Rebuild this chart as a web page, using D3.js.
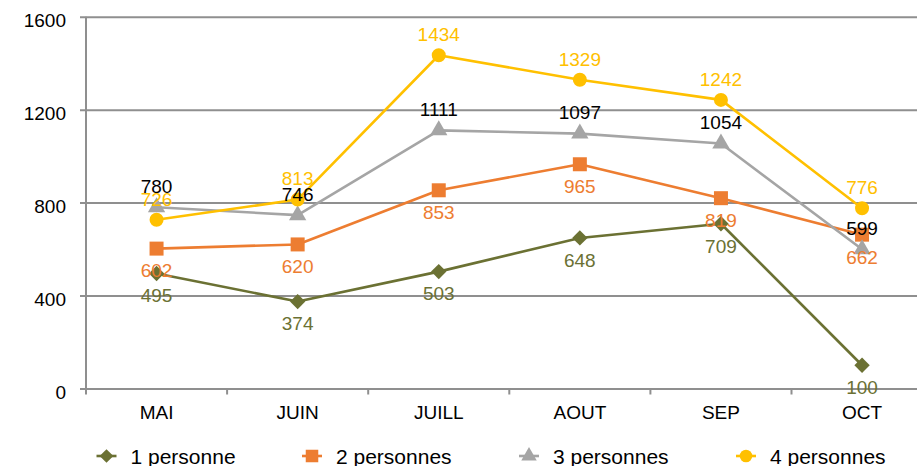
<!DOCTYPE html>
<html><head><meta charset="utf-8">
<script src="https://cdn.jsdelivr.net/npm/d3@7"></script>
<style>
html,body{margin:0;padding:0;background:#fff;}
svg{display:block;font-family:"Liberation Sans",Arial,Helvetica,sans-serif;}
</style></head>
<body>
<svg id="chart" width="917" height="466"></svg>
<script>
const categories = ["MAI","JUIN","JUILL","AOUT","SEP","OCT"];
const seriesNames = ["1 personne","2 personnes","3 personnes","4 personnes"];
const personne1 = [495,374,503,648,709,100];
const personnes2 = [602,620,853,965,819,662];
const personnes3 = [780,746,1111,1097,1054,599];
const personnes4 = [726,813,1434,1329,1242,776];
const yTicks = [0,400,800,1200,1600];

const seriesColors = ["#6B7133","#ED7D31","#A5A5A5","#FFC000"];
const labelColors = ["#6B7133","#ED7D31","#000000","#FFC000"];
const labelPos = ["below","below","above","above"];
const symbols = [d3.symbolDiamond2, d3.symbolSquare, d3.symbolTriangle, d3.symbolCircle];
const symbolSizes = [150,196,130,154];

const series = [personne1,personnes2,personnes3,personnes4].map((v,i)=>({name:seriesNames[i],values:v,i}));

const svg = d3.select("#chart");
const mLeft = 86, mRight = 917, mTop = 16.7, mBottom = 388.5;
const x = d3.scaleBand().domain(categories).range([mLeft, mLeft + 6*141.1]);
const y = d3.scaleLinear().domain([0,1600]).range([mBottom, mTop]);
const gridColor = "#8f8f8f";

// Gridlines + y labels
const yAxis = d3.axisLeft(y).tickValues(yTicks).tickSize(-(mRight-mLeft)).tickPadding(20).tickFormat(d3.format("d"));
const gy = svg.append("g").attr("transform",`translate(${mLeft},0)`).call(yAxis);
gy.select(".domain").remove();
gy.selectAll(".tick line").attr("stroke",gridColor).attr("stroke-width",2).attr("x1",-6);
gy.selectAll(".tick text").attr("font-size",19).attr("fill","#000").attr("dy","0.5em").attr("font-family","Liberation Sans, Arial, sans-serif");

// y axis vertical line
svg.append("line").attr("x1",mLeft).attr("x2",mLeft).attr("y1",mTop).attr("y2",mBottom+5)
  .attr("stroke",gridColor).attr("stroke-width",2);

// x axis labels
const xAxis = d3.axisBottom(x).tickSize(0).tickPadding(17);
const gx = svg.append("g").attr("transform",`translate(0,${mBottom})`).call(xAxis);
gx.select(".domain").remove();
gx.selectAll(".tick text").attr("font-size",19).attr("fill","#000").attr("font-family","Liberation Sans, Arial, sans-serif");
// x boundary ticks
svg.append("g").selectAll("line").data(categories).join("line")
  .attr("x1",d=>x(d)).attr("x2",d=>x(d)).attr("y1",mBottom).attr("y2",mBottom+6)
  .attr("stroke",gridColor).attr("stroke-width",2);

const cx = d => x(d) + x.bandwidth()/2;
const line = d3.line().x((d,j)=>cx(categories[j])).y(d=>y(d));

// lines and markers
series.forEach(s=>{
  svg.append("path").datum(s.values).attr("d",line).attr("fill","none")
    .attr("stroke",seriesColors[s.i]).attr("stroke-width",2.6).attr("stroke-linejoin","round");
  svg.append("g").selectAll("path").data(s.values).join("path")
    .attr("d",d3.symbol().type(symbols[s.i]).size(symbolSizes[s.i]))
    .attr("transform",(d,j)=>`translate(${cx(categories[j])},${y(d)})`)
    .attr("fill",seriesColors[s.i]);
});

// labels
series.forEach(s=>{
  svg.append("g").selectAll("text").data(s.values).join("text")
    .attr("x",(d,j)=>cx(categories[j]))
    .attr("y",d=>y(d) + (labelPos[s.i]==="above" ? -21 : 22))
    .attr("dy","0.36em").attr("text-anchor","middle").attr("font-size",19)
    .attr("fill",labelColors[s.i]).text(d=>d);
});

// legend
const legendX = [106.5,312,529,746];
const legendY = 456;
const lg = svg.append("g");
series.forEach(s=>{
  const g = lg.append("g").attr("transform",`translate(${legendX[s.i]},${legendY})`);
  g.append("line").attr("x1",-10).attr("x2",10).attr("y1",0).attr("y2",0)
    .attr("stroke",seriesColors[s.i]).attr("stroke-width",2.6);
  g.append("path").attr("d",d3.symbol().type(symbols[s.i]).size(symbolSizes[s.i]*0.8)).attr("fill",seriesColors[s.i]);
  g.append("text").attr("x",24).attr("y",0).attr("dy","0.36em").attr("font-size",21).attr("fill","#000").text(s.name);
});
</script>
</body></html>
